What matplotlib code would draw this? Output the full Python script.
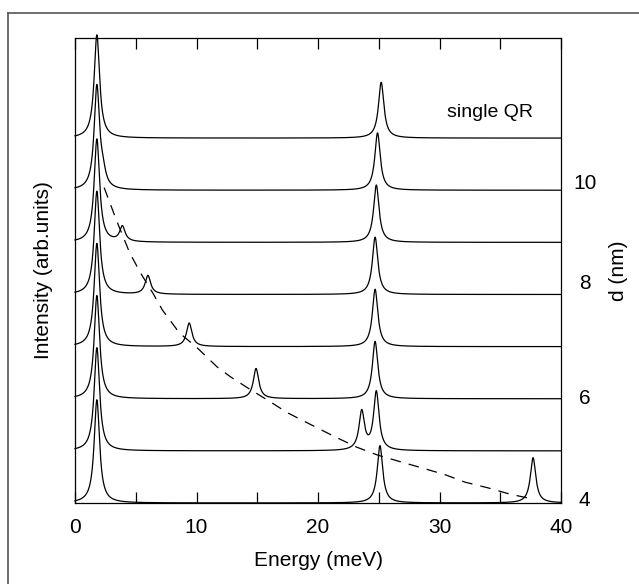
import matplotlib
matplotlib.use('Agg')
import matplotlib.pyplot as plt
from matplotlib.lines import Line2D
import numpy as np

plt.rcParams['font.family'] = ['Liberation Sans', 'DejaVu Sans']

# peaks of each spectrum: (energy meV, height) ; offset index = position in stack
nomes = ['4', '5', '6', '7', '8', '9', '10', 'single QR']
picos_e = [
    [1.8, 25.1, 37.7],
    [1.8, 23.6, 24.8],
    [1.8, 14.9, 24.7],
    [1.8, 9.4, 24.7],
    [1.8, 6.0, 24.7],
    [1.8, 3.9, 24.8],
    [1.8, 2.3, 24.9],
    [1.8, 25.2],
]
picos_h = [
    [1.98, 1.10, 0.87],
    [1.98, 0.74, 1.12],
    [1.98, 0.58, 1.10],
    [1.98, 0.45, 1.10],
    [1.98, 0.36, 1.10],
    [1.98, 0.29, 1.10],
    [1.98, 0.22, 1.10],
    [1.98, 1.07],
]
largura = 0.27  # half width of the lorentzian lines

# dashed guide through the satellite peaks
guia_x = [2.4, 3.4, 4.5, 5.4, 6.4, 7.2, 8.6, 10.0, 11.7, 12.8, 14.2, 15.8,
          17.5, 19.1, 21.4, 23.2, 24.9, 26.8, 28.6, 30.5, 32.1, 34.0, 35.8, 37.6]
guia_y = [6.05, 5.43, 4.80, 4.41, 4.03, 3.70, 3.26, 2.99, 2.61, 2.42, 2.21, 1.98,
          1.73, 1.54, 1.27, 1.07, 0.92, 0.79, 0.67, 0.54, 0.40, 0.29, 0.17, 0.08]

d_labels = ['4', '6', '8', '10']
d_pos = [0.08, 2.05, 4.24, 6.16]

fig = plt.figure(figsize=(6.39, 5.84), dpi=100)
ax = fig.add_axes([75 / 639, 1 - 503 / 584, 486 / 639, 465 / 584])

energia = np.linspace(0, 40, 4001)
for i in range(len(nomes)):
    y = np.zeros_like(energia) + i
    for e0, h in zip(picos_e[i], picos_h[i]):
        y += h * largura**2 / ((energia - e0)**2 + largura**2)
    ax.plot(energia, y, color='black', lw=0.9, clip_on=False)

ax.plot(guia_x, guia_y, color='black', lw=0.9, dashes=(8.5, 6.5))

ax.text(37.7, 7.5, 'single QR', ha='right', va='center', fontsize=14)

ax.set_xlim(0, 40)
ax.set_ylim(0, 8.92)

ax2 = ax.twinx()
ax2.set_ylim(0, 8.92)
ax2.set_yticks(d_pos)
ax2.set_yticklabels(d_labels, ha='center')
ax2.tick_params(axis='y', length=0, labelsize=15, pad=17)
ax2.set_ylabel('d (nm)', fontsize=15, labelpad=9)
for s in ax2.spines.values():
    s.set_visible(False)

ax.set_xticks([0, 10, 20, 30, 40])
ax.set_xticks([5, 15, 25, 35], minor=True)
ax.tick_params(axis='x', which='both', direction='in', top=True, length=8, width=0.9,
               labelsize=15, pad=11)
ax.tick_params(axis='y', which='both', left=False, right=False,
               labelleft=False, labelright=False)
for s in ax.spines.values():
    s.set_linewidth(0.9)

ax.set_xlabel('Energy (meV)', fontsize=15, labelpad=10)
ax.set_ylabel('Intensity (arb.units)', fontsize=15, labelpad=16)

# moldura da figura
fig.add_artist(Line2D([7.5 / 639, 7.5 / 639], [0, 1 - 12.5 / 584], color='#555555', lw=1.2))
fig.add_artist(Line2D([7.5 / 639, 1], [1 - 12.5 / 584, 1 - 12.5 / 584], color='#555555', lw=1.2))

plt.savefig('out.png', dpi=100)
